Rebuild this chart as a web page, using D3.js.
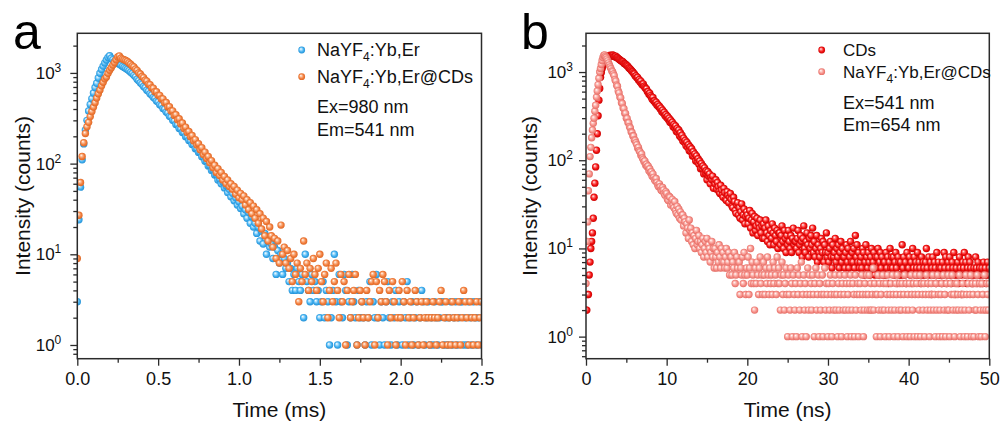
<!DOCTYPE html>
<html><head><meta charset="utf-8">
<script src="https://cdn.jsdelivr.net/npm/d3@7"></script>
<style>
html,body{margin:0;padding:0;background:#fff;}
svg{display:block;font-family:"Liberation Sans",Arial,Helvetica,sans-serif;}
</style></head><body>
<svg id="chart" width="1001" height="426"></svg>
<script>
// ---------- DATA ----------
// Panel a: TCSPC decay, channel width in ms
const binA = 0.01;
const countsA_UC = [
3,24,55,110,165,235,300,380,450,520,
600,690,770,880,990,1090,1190,1290,1390,1480,
1545,1450,1400,1340,1310,1280,1250,1215,1180,1150,
1120,1090,1060,1020,985,940,905,852,822,778,
752,708,686,645,626,590,572,538,523,490,
478,446,436,405,398,370,362,332,326,300,
296,270,268,244,242,220,219,198,197,180,
179,162,162,146,146,133,133,119,118,106,
106,94,95,84,85,75,76,66,68,60,
63,54,57,48,52,43,47,39,42,35,
38,32,34,28,31,25,29,22,26,20,
22,17,20,14,18,13,17,10,14,12,
13,9,12,6,11,8,10,6,9,7,
8,5,7,4,6,4,7,5,4,6,
2,10,5,4,3,6,4,5,3,4,
2,3,5,2,4,3,1,2,4,10,
3,1,6,3,2,6,4,1,3,2,
6,3,2,1,4,2,3,2,1,3,
2,5,1,3,2,6,2,1,3,2,
1,3,5,2,1,3,2,4,1,3,
2,1,3,2,5,1,2,3,1,2,
3,1,2,4,3,1,2,3,1,2,
1,3,2,1,2,3,3,1,2,1,
2,3,1,2,3,1,2,3,3,1,
2,1,3,2,1,3,2,1,2,3,
1];
const countsA_UCCD = [
9,27,62,120,170,215,255,285,330,375,
420,470,530,590,650,720,790,860,900,990,
1070,1140,1220,1300,1400,1500,1540,1450,1420,1395,
1370,1335,1290,1245,1195,1165,1100,1065,1000,972,
912,888,830,812,752,742,684,678,622,620,
566,566,516,518,468,472,422,424,380,382,
340,346,304,312,274,280,244,252,220,226,
198,204,178,184,160,166,142,150,126,134,
114,120,102,108,90,96,80,88,74,80,
66,72,60,66,56,60,52,56,46,51,
42,47,40,44,35,40,31,37,28,34,
25,31,22,28,19,25,16,23,14,20,
16,12,15,9,14,8,21,10,12,8,
11,7,9,5,10,6,8,3,7,5,
14,6,8,4,7,5,9,6,4,7,
10,5,3,6,8,2,4,7,3,5,
8,4,2,6,3,5,1,4,6,2,
3,4,6,1,2,4,3,2,1,4,
2,3,5,6,1,5,2,4,3,6,
5,3,1,4,2,5,3,1,2,4,
2,5,3,1,4,2,3,1,2,4,
3,1,2,3,1,2,3,2,1,2,
3,2,1,2,3,4,1,2,3,1,
2,1,3,2,1,2,3,1,2,4,
3,2,1,3,2,1,2,3,1,2,
3];
// Panel b: TCSPC decay, channel width in ns
const binB = 0.1;
const countsB_CD = [
2,2,3,3,5,7,10,12,15,22,
38,55,84,130,200,320,480,650,875,990,
1100,1180,1250,1310,1360,1400,1440,1470,1500,1530,
1550,1520,1530,1560,1540,1500,1490,1510,1460,1450,
1420,1400,1380,1350,1330,1320,1300,1260,1240,1230,
1200,1180,1160,1120,1100,1080,1050,1020,1000,970,
950,900,905,860,870,810,820,770,790,730,
715,735,690,670,650,645,600,600,560,575,
540,520,490,515,470,470,445,455,420,430,
405,410,380,390,355,370,340,350,320,330,
305,315,290,300,270,285,262,270,240,255,
232,245,212,230,206,220,188,205,180,192,
165,178,160,168,146,160,140,150,128,142,
126,135,112,125,110,118,98,112,96,104,
90,98,80,92,80,86,70,82,72,76,
60,74,66,70,54,64,60,66,48,58,
54,60,47,56,50,44,42,52,46,40,
38,48,43,36,35,44,40,33,38,42,
36,30,29,38,34,27,25,31,33,24,
29,22,26,32,21,24,28,19,23,26,
24,19,22,27,17,21,25,15,20,23,
16,18,22,14,19,17,21,15,18,13,
19,13,17,21,15,12,18,14,11,16,
13,19,15,11,17,14,12,16,10,15,
15,11,14,18,12,10,16,13,9,14,
11,16,12,10,14,9,13,17,11,12,
12,10,13,16,9,11,14,12,8,13,
18,10,9,12,15,11,8,13,10,14,
11,17,9,12,8,10,14,7,11,9,
8,10,13,9,12,7,11,9,15,8,
9,7,10,12,8,6,11,8,9,13,
7,10,8,11,6,9,12,7,10,8,
8,6,9,11,7,10,6,8,12,7,
9,7,10,6,14,8,11,7,9,6,
7,8,6,10,9,5,7,11,8,6,
9,7,5,8,10,6,7,9,5,8,
6,8,10,5,7,9,6,8,5,7,
7,5,9,6,8,4,7,10,6,8,
6,8,5,7,9,6,4,8,7,5,
7,5,11,6,8,5,7,4,9,6,
6,8,5,7,4,10,6,8,5,7,
6,9,5,7,6,4,8,5,7,6,
5,7,10,6,4,8,5,7,3,6,
8,5,7,6,4,9,5,7,6,5,
6,4,7,5,9,6,8,4,5,7,
6,8,5,4,7,6,9,5,3,6,
5,7,4,8,6,5,3,7,6,9,
5,7,4,6,8,5,7,6,4,5,
4,6,5,8,6,4,7,5,6,4,
5,6,4,7,5,6,4,5,7,5,
6];
const countsB_UCCD = [
4,12,20,45,70,110,140,180,220,262,
300,360,420,520,610,720,850,1000,1100,1220,
1350,1460,1540,1560,1500,1460,1400,1340,1270,1200,
1140,1090,1030,1010,950,910,820,790,710,690,
610,580,520,510,450,440,390,385,340,340,
300,298,268,266,240,232,210,206,190,188,
170,168,158,150,138,140,128,124,114,118,
106,102,96,98,88,90,84,86,76,80,
72,74,66,70,64,60,58,62,56,52,
50,54,50,46,45,49,46,42,40,44,
42,36,35,39,38,31,34,36,31,29,
34,27,25,30,24,28,22,26,21,24,
24,18,22,20,15,19,17,13,21,16,
17,12,15,11,14,10,13,16,11,12,
14,10,12,9,11,13,8,10,12,9,
13,8,11,10,7,9,12,8,10,6,
10,8,6,9,7,11,8,6,10,7,
9,7,6,8,10,6,7,9,5,8,
8,5,7,6,9,4,5,8,6,7,
7,3,6,5,8,4,9,5,3,6,
5,8,3,6,10,4,7,5,4,2,
6,4,7,5,3,6,8,4,5,3,
7,5,3,6,4,8,5,3,6,4,
5,3,7,4,6,5,3,8,4,6,
4,2,5,7,3,5,2,4,6,3,
1,5,3,2,6,4,1,5,3,2,
4,1,6,3,5,2,4,7,1,3,
5,2,4,1,3,6,2,5,3,4,
2,5,3,1,4,6,2,3,5,1,
4,2,3,5,1,3,6,2,4,3,
1,4,2,5,3,1,4,2,3,5,
2,3,1,4,2,5,3,1,4,2,
3,5,2,4,1,3,2,4,5,1,
2,4,3,1,5,2,3,4,1,3,
4,2,5,3,1,2,4,3,5,2,
3,5,2,4,2,3,6,2,4,3,
1,3,5,2,4,1,3,2,5,4,
2,1,4,3,5,2,1,3,4,2,
5,3,1,2,4,3,5,1,2,4,
3,2,4,1,3,5,2,4,1,3,
2,4,1,5,3,2,4,1,3,5,
4,1,3,2,5,1,4,3,2,4,
1,3,5,2,4,3,1,2,4,3,
5,2,3,1,4,2,5,3,1,2,
3,4,1,5,2,3,1,4,2,5,
2,1,4,3,5,2,3,1,4,2,
4,3,2,5,1,3,2,4,3,1,
2,5,3,1,4,2,3,5,1,4,
3,1,2,4,2,5,3,1,4,2,
1,4,3,2,5,1,2,4,3,2,
4];
const xTicksA = [0, 0.5, 1.0, 1.5, 2.0, 2.5];
const xMinorA = [0.25, 0.75, 1.25, 1.75, 2.25];
const xTicksB = [0, 10, 20, 30, 40, 50];
const xMinorB = [5, 15, 25, 35, 45];
const yDecades = [1, 10, 100, 1000];
const legendA = [
  {color:'blue',   parts:[{t:'NaYF'},{t:'4',sub:true},{t:':Yb,Er'}]},
  {color:'orange', parts:[{t:'NaYF'},{t:'4',sub:true},{t:':Yb,Er@CDs'}]}
];
const notesA = ['Ex=980 nm','Em=541 nm'];
const legendB = [
  {color:'red',    parts:[{t:'CDs'}]},
  {color:'salmon', parts:[{t:'NaYF'},{t:'4',sub:true},{t:':Yb,Er@CDs'}]}
];
const notesB = ['Ex=541 nm','Em=654 nm'];

// ---------- STYLE ----------
const palette = {
  blue:   {light:'#a6ddfb', base:'#43b0f0', dark:'#1d8bd0'},
  orange: {light:'#fbbd96', base:'#f37f3f', dark:'#d9631f'},
  red:    {light:'#ff7a7a', base:'#f31212', dark:'#c20000'},
  salmon: {light:'#fdc6c1', base:'#f68f88', dark:'#e0665e'}
};
const R = 3.7;
const AX = '#2b2b2b';

const svg = d3.select('#chart');
const defs = svg.append('defs');
Object.entries(palette).forEach(([k,c])=>{
  const g = defs.append('radialGradient').attr('id','g-'+k)
    .attr('cx','50%').attr('cy','50%').attr('r','55%').attr('fx','36%').attr('fy','33%');
  g.append('stop').attr('offset','0%').attr('stop-color','#ffffff');
  g.append('stop').attr('offset','28%').attr('stop-color',c.light);
  g.append('stop').attr('offset','62%').attr('stop-color',c.base);
  g.append('stop').attr('offset','100%').attr('stop-color',c.dark);
});

const panels = [
  {key:'a', letter:'a', letterX:13, left:77.3, right:481.5, top:33.3, bottom:358.7,
   xDomain:[0,2.5], yDomain:[0.706,2735], xTicks:xTicksA, xMinor:xMinorA, xFmt:d3.format('.1f'),
   xTitle:'Time (ms)', yTitleX:29.5, yLabOff:16,
   series:[{counts:countsA_UC,bin:binA,color:'blue'},{counts:countsA_UCCD,bin:binA,color:'orange'}],
   legend:legendA, notes:notesA, legX:301.7, legTextX:317, legY:[50,76.7], legFont:18,
   noteY:[113,136]},
  {key:'b', letter:'b', letterX:521, left:586, right:989.3, top:33.3, bottom:358.7,
   xDomain:[0,50], yDomain:[0.562,2750], xTicks:xTicksB, xMinor:xMinorB, xFmt:d3.format('d'),
   xTitle:'Time (ns)', yTitleX:536.5, yLabOff:13,
   series:[{counts:countsB_CD,bin:binB,color:'red'},{counts:countsB_UCCD,bin:binB,color:'salmon'}],
   legend:legendB, notes:notesB, legX:821.7, legTextX:843, legY:[50,71.7], legFont:17,
   noteY:[108.5,131]}
];

function styleAxis(sel){
  sel.select('.domain').remove();
  sel.selectAll('.tick line').attr('stroke',AX).attr('stroke-width',1.3);
  sel.selectAll('.tick text').attr('fill','#111').style('font-size','18px')
     .style('font-family','"Liberation Sans",Arial,sans-serif');
}

panels.forEach(p=>{
  const x = d3.scaleLinear().domain(p.xDomain).range([p.left,p.right]);
  const y = d3.scaleLog().domain(p.yDomain).range([p.bottom,p.top]);
  const g = svg.append('g');
  const clipId = 'clip-'+p.key;
  defs.append('clipPath').attr('id',clipId).append('rect')
    .attr('x',p.left).attr('y',p.top).attr('width',p.right-p.left).attr('height',p.bottom-p.top);
  const plot = g.append('g').attr('clip-path',`url(#${clipId})`);
  p.series.forEach(s=>{
    const pts = s.counts.map((c,i)=>({t:i*s.bin,c:c})).filter(d=>d.c>0);
    plot.append('g').selectAll('circle').data(pts).join('circle')
      .attr('cx',d=>x(d.t)).attr('cy',d=>y(d.c)).attr('r',R)
      .attr('fill',`url(#g-${s.color})`);
  });

  // x axis
  g.append('g').attr('transform',`translate(0,${p.bottom})`)
    .call(d3.axisBottom(x).tickValues(p.xTicks).tickSize(7).tickPadding(7).tickFormat(p.xFmt))
    .call(styleAxis);
  g.append('g').attr('transform',`translate(0,${p.bottom})`)
    .call(d3.axisBottom(x).tickValues(p.xMinor).tickSize(4).tickFormat(''))
    .call(styleAxis);

  // y axis
  const [y0,y1] = p.yDomain;
  const minors = [];
  [0.1,1,10,100,1000].forEach(d=>{ for(let k=2;k<=9;k++){ const v=d*k; if(v>=y0 && v<=y1) minors.push(v);} });
  g.append('g').attr('transform',`translate(${p.left},0)`)
    .call(d3.axisLeft(y).tickValues(yDecades).tickSize(7).tickFormat(''))
    .call(styleAxis);
  g.append('g').attr('transform',`translate(${p.left},0)`)
    .call(d3.axisLeft(y).tickValues(minors).tickSize(4).tickFormat(''))
    .call(styleAxis);
  yDecades.forEach(v=>{
    const t = g.append('text').attr('x',p.left-p.yLabOff).attr('y',y(v)+6)
      .attr('text-anchor','end').attr('fill','#111').style('font-size','17px');
    t.append('tspan').text('10');
    t.append('tspan').attr('dy',-7).style('font-size','12px').text(String(Math.round(Math.log10(v))));
  });

  // frame
  g.append('rect').attr('x',p.left).attr('y',p.top)
    .attr('width',p.right-p.left).attr('height',p.bottom-p.top)
    .attr('fill','none').attr('stroke',AX).attr('stroke-width',1.5);

  // titles
  g.append('text').attr('x',(p.left+p.right)/2).attr('y',417).attr('text-anchor','middle')
    .attr('fill','#111').style('font-size','21px').text(p.xTitle);
  g.append('text').attr('transform',`translate(${p.yTitleX},${(p.top+p.bottom)/2}) rotate(-90)`)
    .attr('text-anchor','middle').attr('fill','#111').style('font-size','21px').text('Intensity (counts)');
  g.append('text').attr('x',p.letterX).attr('y',49).attr('fill','#000')
    .style('font-size','50px').text(p.letter);

  // legend
  p.legend.forEach((e,i)=>{
    const cy = p.legY[i];
    g.append('circle').attr('cx',p.legX).attr('cy',cy).attr('r',3.4).attr('fill',`url(#g-${e.color})`);
    const t = g.append('text').attr('x',p.legTextX).attr('y',cy+6.2).attr('fill','#111')
      .style('font-size',p.legFont+'px');
    e.parts.forEach(pt=>{
      if(pt.sub){
        t.append('tspan').attr('dy',5).style('font-size','12px').text(pt.t);
      } else {
        const ts = t.append('tspan').text(pt.t);
        if(t.selectAll('tspan').size()>1) ts.attr('dy',-5);
      }
    });
  });
  p.notes.forEach((n,i)=>{
    g.append('text').attr('x',p.legTextX).attr('y',p.noteY[i]).attr('fill','#111')
      .style('font-size','18px').text(n);
  });
});
</script>
</body></html>
